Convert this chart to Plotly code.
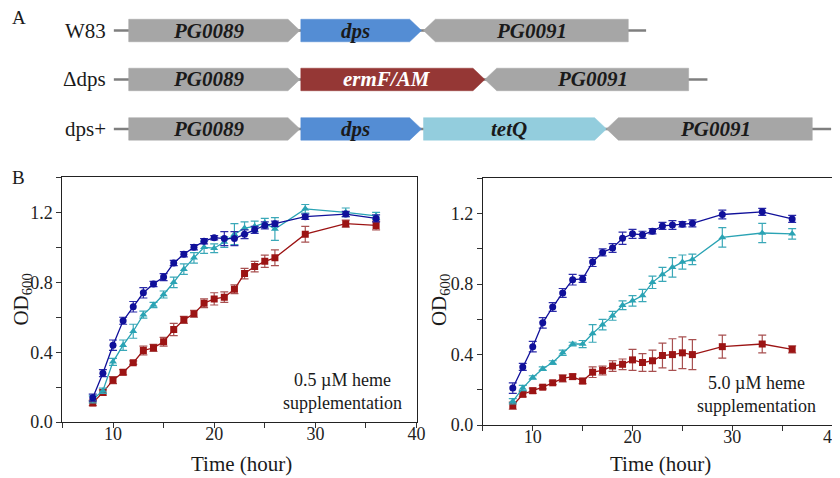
import plotly.graph_objects as go

# ---------------- data ----------------
time_h = [8, 9, 10, 11, 12, 13, 14, 15, 16, 17, 18, 19, 20, 21, 22, 23, 24, 25, 26, 29, 33, 36]

# 0.5 uM heme
w83_lo = [0.14, 0.28, 0.44, 0.58, 0.66, 0.74, 0.79, 0.83, 0.91, 0.96, 1.00, 1.035, 1.055, 1.05, 1.05, 1.075, 1.10, 1.125, 1.135, 1.175, 1.19, 1.165]
w83_lo_err = [0.02, 0.02, 0.03, 0.02, 0.03, 0.03, 0.015, 0.02, 0.015, 0.015, 0.015, 0.015, 0.012, 0.04, 0.04, 0.025, 0.02, 0.02, 0.015, 0.015, 0.015, 0.02]
dps_lo = [0.11, 0.17, 0.24, 0.285, 0.34, 0.41, 0.425, 0.46, 0.53, 0.585, 0.62, 0.68, 0.705, 0.715, 0.76, 0.85, 0.89, 0.92, 0.94, 1.075, 1.135, 1.125]
dps_lo_err = [0.015, 0.015, 0.02, 0.015, 0.01, 0.025, 0.02, 0.025, 0.035, 0.02, 0.02, 0.025, 0.035, 0.03, 0.025, 0.03, 0.03, 0.035, 0.045, 0.045, 0.02, 0.025]
comp_lo = [0.13, 0.18, 0.345, 0.44, 0.52, 0.615, 0.67, 0.73, 0.80, 0.875, 0.94, 1.00, 0.995, 1.03, 1.075, 1.11, 1.12, 1.14, 1.105, 1.22, 1.20, 1.18]
comp_lo_err = [0.02, 0.015, 0.02, 0.03, 0.04, 0.02, 0.015, 0.02, 0.03, 0.03, 0.03, 0.035, 0.025, 0.03, 0.06, 0.035, 0.03, 0.025, 0.065, 0.025, 0.025, 0.02]

# 5.0 uM heme
w83_hi = [0.21, 0.33, 0.445, 0.58, 0.67, 0.75, 0.825, 0.83, 0.925, 0.98, 1.005, 1.06, 1.085, 1.08, 1.10, 1.13, 1.135, 1.14, 1.145, 1.195, 1.21, 1.17]
w83_hi_err = [0.03, 0.02, 0.03, 0.03, 0.025, 0.025, 0.03, 0.02, 0.025, 0.02, 0.025, 0.035, 0.025, 0.02, 0.015, 0.02, 0.025, 0.015, 0.02, 0.025, 0.02, 0.02]
dps_hi = [0.11, 0.175, 0.195, 0.215, 0.24, 0.265, 0.275, 0.25, 0.30, 0.31, 0.335, 0.345, 0.37, 0.355, 0.365, 0.395, 0.40, 0.41, 0.40, 0.445, 0.46, 0.43]
dps_hi_err = [0.02, 0.015, 0.015, 0.01, 0.01, 0.02, 0.015, 0.015, 0.03, 0.025, 0.03, 0.03, 0.06, 0.05, 0.06, 0.07, 0.09, 0.09, 0.085, 0.065, 0.05, 0.02]
comp_hi = [0.135, 0.21, 0.27, 0.32, 0.355, 0.41, 0.46, 0.46, 0.52, 0.57, 0.62, 0.68, 0.705, 0.735, 0.81, 0.855, 0.895, 0.925, 0.94, 1.065, 1.09, 1.085]
comp_hi_err = [0.015, 0.015, 0.01, 0.01, 0.01, 0.015, 0.01, 0.02, 0.05, 0.03, 0.025, 0.025, 0.03, 0.035, 0.035, 0.04, 0.055, 0.04, 0.03, 0.055, 0.055, 0.03]

heme_labels = ["0.5 \u00b5M heme<br>supplementation", "5.0 \u00b5M heme<br>supplementation"]

# gene maps (diagram units)
construct_names = ["W83", "\u0394dps", "dps+"]
gene_row = [0, 0, 0, 1, 1, 1, 2, 2, 2, 2]
gene_name = ["PG0089", "dps", "PG0091", "PG0089", "ermF/AM", "PG0091", "PG0089", "dps", "tetQ", "PG0091"]
gene_start = [122, 296, 420, 122, 296, 482, 122, 296, 420, 605]
gene_end = [295, 418, 627, 295, 482, 688, 295, 418, 605, 813]
gene_strand = [1, 1, -1, 1, 1, -1, 1, 1, 1, -1]
flank_start = [107, 107, 107]
flank_end = [645, 707, 832]

# ---------------- style ----------------
W, H = 840, 478
SERIF = "Liberation Serif, Times New Roman, serif"
C_W83 = "#10109a"
C_DPS = "#9c1414"
C_COMP = "#2aa3b4"
ERR_W83 = "#2a2aa8"
ERR_DPS = "#a85050"
ERR_COMP = "#3aa8b8"
GENE_COL = {"PG0089": "#a6a6a6", "PG0091": "#a6a6a6", "dps": "#548dd4",
            "ermF/AM": "#953735", "tetQ": "#93cddd"}
ROW_Y = [23, 73, 123.5]
HALF_H = 11.5
TIP = 12


def px(x):
    return x / W


def py(y):
    return 1 - y / H


fig = go.Figure()

# ---------- panel A: gene diagram on a hidden pixel-scaled axis ----------
for r, name in enumerate(construct_names):
    yc = ROW_Y[r]
    fig.add_trace(go.Scatter(x=[flank_start[r], flank_end[r]], y=[yc, yc], mode="lines",
                             line=dict(color="#7f7f7f", width=2.5), xaxis="x3", yaxis="y3",
                             hoverinfo="skip", showlegend=False))
    fig.add_annotation(x=px(flank_start[r] - 6), y=py(yc), xref="paper", yref="paper",
                       text=name, showarrow=False, xanchor="right", yanchor="middle",
                       font=dict(family=SERIF, size=21, color="#1a1a1a"))

for i in range(len(gene_name)):
    yc = ROW_Y[gene_row[i]]
    s, e = gene_start[i], gene_end[i]
    t, b = yc - HALF_H, yc + HALF_H
    if gene_strand[i] > 0:
        xs = [s, e - TIP, e, e - TIP, s, s]
        ys = [t, t, yc, b, b, t]
        cx = (s + e - TIP) / 2
    else:
        xs = [s, s + TIP, e, e, s + TIP, s]
        ys = [yc, t, t, b, b, yc]
        cx = (s + TIP + e) / 2
    col = GENE_COL[gene_name[i]]
    fig.add_trace(go.Scatter(x=xs, y=ys, mode="lines", fill="toself", fillcolor=col,
                             line=dict(color=col, width=0.5), xaxis="x3", yaxis="y3",
                             hoverinfo="skip", showlegend=False))
    tcol = "white" if gene_name[i] == "ermF/AM" else "#1a1a1a"
    fig.add_annotation(x=px(cx), y=py(yc), xref="paper", yref="paper",
                       text="<b><i>%s</i></b>" % gene_name[i], showarrow=False,
                       xanchor="center", yanchor="middle",
                       font=dict(family=SERIF, size=21, color=tcol))

# ---------- panel B: growth curves ----------
panels = [
    (w83_lo, w83_lo_err, dps_lo, dps_lo_err, comp_lo, comp_lo_err, "x", "y"),
    (w83_hi, w83_hi_err, dps_hi, dps_hi_err, comp_hi, comp_hi_err, "x2", "y2"),
]
for (w, we, d, de, c, ce, xa, ya) in panels:
    for vals, errs, col, ecol, sym, nm in [
        (d, de, C_DPS, ERR_DPS, "square", "\u0394dps"),
        (c, ce, C_COMP, ERR_COMP, "triangle-up", "dps+"),
        (w, we, C_W83, ERR_W83, "circle", "W83"),
    ]:
        fig.add_trace(go.Scatter(
            x=time_h, y=vals, mode="lines+markers", name=nm, xaxis=xa, yaxis=ya,
            line=dict(color=col, width=1.3),
            marker=dict(symbol=sym, size=7, color=col),
            error_y=dict(type="data", array=errs, visible=True, color=ecol,
                         thickness=1.2, width=4),
            showlegend=False))

axis_font = dict(family=SERIF, size=18, color="#222")
common_x = dict(range=[5, 40], tick0=0, dtick=10, ticks="outside", ticklen=5,
                tickcolor="#333", showline=True, linecolor="#222", linewidth=1.2,
                mirror=True, showgrid=False, zeroline=False, tickfont=axis_font,
                ticklabelstandoff=-10,
                minor=dict(dtick=5, ticks="outside", ticklen=5, tickcolor="#333"))
common_y = dict(range=[0, 1.4], tick0=0, dtick=0.4, tickformat=".1f", ticks="outside",
                ticklen=5, tickcolor="#333", showline=True, linecolor="#222",
                linewidth=1.2, mirror=True, showgrid=False, zeroline=False,
                tickfont=axis_font,
                minor=dict(dtick=0.2, ticks="outside", ticklen=5, tickcolor="#333"))

fig.update_layout(
    width=W, height=H, margin=dict(l=0, r=0, t=0, b=0),
    paper_bgcolor="white", plot_bgcolor="rgba(0,0,0,0)",
    xaxis=dict(domain=[px(55), px(413)], anchor="y", **common_x),
    yaxis=dict(domain=[py(423), py(173)], anchor="x", **common_y),
    xaxis2=dict(domain=[px(480), px(833)], anchor="y2", **common_x),
    yaxis2=dict(domain=[py(426), py(174)], anchor="x2", **common_y),
    xaxis3=dict(domain=[0, 1], range=[0, W], visible=False, anchor="y3", fixedrange=True),
    yaxis3=dict(domain=[0, 1], range=[H, 0], visible=False, anchor="x3", fixedrange=True),
    font=dict(family=SERIF),
)

# panel letters
for letter, (lx, ly) in zip(["A", "B"], [(2, 10), (2, 173)]):
    fig.add_annotation(x=px(lx), y=py(ly), xref="paper", yref="paper", text=letter,
                       showarrow=False, xanchor="left", yanchor="middle",
                       font=dict(family=SERIF, size=19, color="#1a1a1a"))

# axis titles and heme labels
for (ytx, xtx, lab_x, lab_y), lab in zip([(14, 236, 338, 392), (436, 660, 757, 395)], heme_labels):
    fig.add_annotation(x=px(ytx), y=py(298), xref="paper", yref="paper",
                       text="OD<sub>600</sub>", textangle=-90, showarrow=False,
                       xanchor="center", yanchor="middle",
                       font=dict(family=SERIF, size=21, color="#1a1a1a"))
    fig.add_annotation(x=px(xtx), y=py(466), xref="paper", yref="paper",
                       text="Time (hour)", showarrow=False, xanchor="center",
                       yanchor="middle", font=dict(family=SERIF, size=21, color="#1a1a1a"))
    fig.add_annotation(x=px(lab_x), y=py(lab_y), xref="paper", yref="paper",
                       text=lab, showarrow=False, xanchor="center", yanchor="middle",
                       align="center", font=dict(family=SERIF, size=18, color="#1a1a1a"))

fig.write_html("out.html")
